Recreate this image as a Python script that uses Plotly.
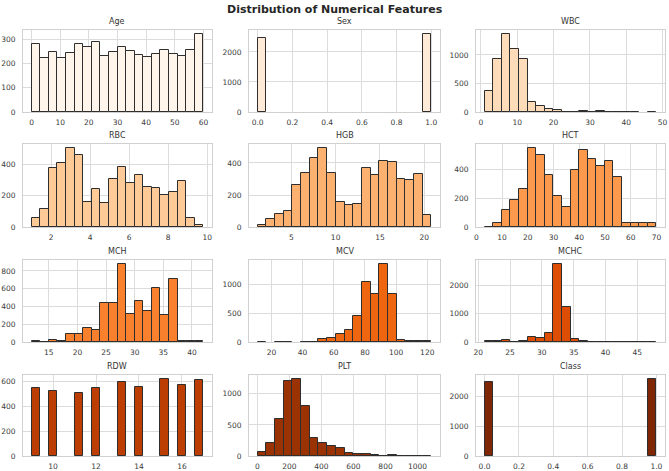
import numpy as np
import plotly.graph_objects as go

# ---------------- data ----------------
features = ["Age", "Sex", "WBC", "RBC", "HGB", "HCT", "MCH", "MCV", "MCHC", "RDW", "PLT", "Class"]

age_counts = [280, 223, 248, 223, 243, 280, 268, 287, 230, 248, 268, 253, 234, 227, 241, 256, 238, 231, 256, 322]
sex_counts = [2450] + [0] * 18 + [2600]
wbc_counts = [363, 936, 1368, 1105, 936, 175, 99, 53, 30, 8, 3, 12, 2, 10, 1, 2, 3, 1, 0, 1]
rbc_counts = [56, 117, 378, 411, 506, 458, 160, 242, 156, 307, 387, 283, 333, 257, 251, 208, 225, 292, 58, 11]
hgb_counts = [13, 47, 79, 98, 261, 340, 430, 494, 340, 154, 139, 145, 370, 323, 413, 406, 297, 295, 334, 73]
hct_counts = [2, 26, 118, 186, 264, 546, 499, 360, 214, 139, 391, 529, 471, 421, 454, 348, 31, 31, 31, 28]
mch_counts = [15, 3, 23, 11, 87, 87, 155, 132, 438, 438, 879, 313, 457, 347, 611, 306, 709, 11, 11, 11]
mcv_counts = [1, 0, 3, 2, 0, 1, 2, 46, 75, 139, 214, 445, 1046, 827, 1353, 832, 35, 17, 17, 17]
mchc_counts = [47, 24, 71, 12, 47, 189, 142, 308, 2769, 1254, 95, 24, 10, 10, 8, 5, 5, 5, 5, 5]
rdw_counts = [549, 0, 525, 0, 0, 504, 0, 544, 0, 0, 592, 0, 555, 0, 0, 619, 0, 568, 0, 613]
plt_counts = [70, 209, 599, 1214, 1241, 797, 283, 214, 160, 128, 48, 37, 27, 11, 5, 16, 5, 3, 3, 1]
class_counts = [2480] + [0] * 18 + [2600]

# bin range (min, max) of every feature, 20 bins each
bin_lo = [0, 0, 1.0, 1.0, 1.2, 3.2, 12, 11.2, 21, 9, 2, 0]
bin_hi = [60, 1, 48.3, 9.8, 20.8, 70, 42, 122.6, 48, 17, 1086, 1]

x_dtick = [10, 0.2, 10, 2, 5, 10, 5, 20, 5, 2, 200, 0.2]
y_dtick = [100, 1000, 500, 200, 200, 200, 200, 500, 1000, 200, 500, 1000]

all_counts = [age_counts, sex_counts, wbc_counts, rbc_counts, hgb_counts, hct_counts,
              mch_counts, mcv_counts, mchc_counts, rdw_counts, plt_counts, class_counts]

colors = ["#fff5eb", "#feead6", "#fedcba", "#fdca98", "#fdb170", "#fd994d",
          "#f9802d", "#ef6611", "#dd4e04", "#bd3e02", "#9b3203", "#7f2704"]

# ---------------- layout geometry (pixels) ----------------
W, H = 669, 471
col_px = [(23, 212), (249, 440), (476, 665)]
row_px = [(30, 112), (144, 227), (260, 342), (375, 456)]

fig = go.Figure()
annotations = []
font_family = "DejaVu Sans"

for i, name in enumerate(features):
    r, c = divmod(i, 3)
    counts = np.array(all_counts[i], dtype=float)
    edges = np.linspace(bin_lo[i], bin_hi[i], len(counts) + 1)
    centers = (edges[:-1] + edges[1:]) / 2
    width = edges[1] - edges[0]
    keep = counts > 0
    ax = "" if i == 0 else str(i + 1)
    fig.add_trace(go.Bar(
        x=centers[keep], y=counts[keep], width=width,
        marker=dict(color=colors[i], line=dict(color="#2e2e2e", width=1)),
        xaxis="x" + ax, yaxis="y" + ax, showlegend=False,
    ))
    span = bin_hi[i] - bin_lo[i]
    x0, x1 = col_px[c]
    y0, y1 = row_px[r]
    common = dict(
        showgrid=True, gridcolor="#dcdcdc", gridwidth=0.8,
        showline=True, linecolor="#d0d0d0", linewidth=1, mirror=True,
        zeroline=False, automargin=False,
        tickfont=dict(family=font_family, size=7.5, color="#3a3a3a"),
        ticks="outside", tickcolor="rgba(0,0,0,0)",
    )
    fig.update_layout(**{
        "xaxis" + ax: dict(
            domain=[x0 / W, x1 / W],
            range=[bin_lo[i] - 0.05 * span, bin_hi[i] + 0.05 * span],
            anchor="y" + ax, tick0=0, dtick=x_dtick[i], ticklen=3,
            tickformat=".1f" if x_dtick[i] < 1 else "d",
            **common),
        "yaxis" + ax: dict(
            domain=[1 - y1 / H, 1 - y0 / H],
            range=[0, counts.max() * 1.05],
            anchor="x" + ax, tick0=0, dtick=y_dtick[i], ticklen=5,
            **common),
    })
    annotations.append(dict(
        text=name, x=(x0 + x1) / 2 / W, y=1 - (y0 - 2) / H,
        xref="paper", yref="paper", xanchor="center", yanchor="bottom",
        showarrow=False, font=dict(family=font_family, size=8, color="#333333"),
    ))

annotations.append(dict(
    text="<b>Distribution of Numerical Features</b>", x=0.5, y=1 - 1 / H,
    xref="paper", yref="paper", xanchor="center", yanchor="top",
    showarrow=False, font=dict(family=font_family, size=11, color="#262626"),
))

fig.update_layout(
    width=W, height=H,
    margin=dict(l=0, r=0, t=0, b=0),
    paper_bgcolor="white", plot_bgcolor="white",
    annotations=annotations,
    bargap=0,
)

fig.write_html("out.html")
